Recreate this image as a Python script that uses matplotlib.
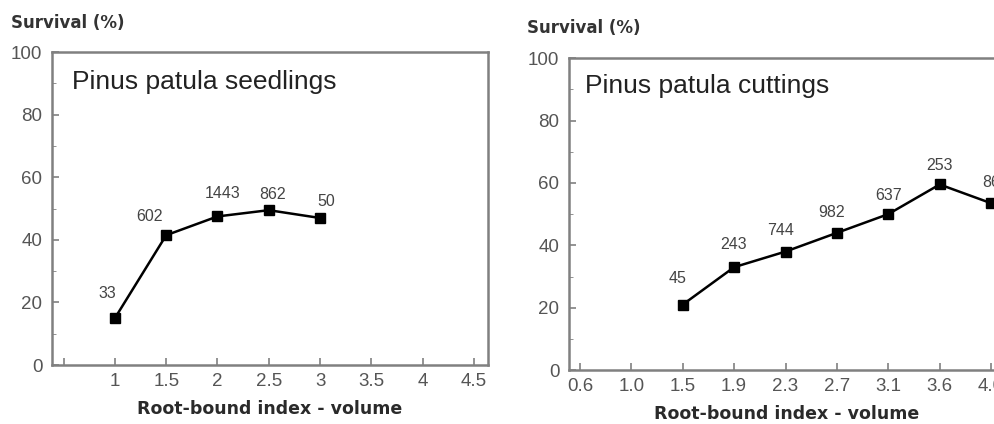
import matplotlib
matplotlib.use("Agg")
import matplotlib.pyplot as plt
from matplotlib.ticker import MultipleLocator

plt.rcParams['font.family'] = ['Liberation Sans', 'DejaVu Sans']

# --- seedlings panel data ---
seed_x = [1, 1.5, 2, 2.5, 3]
seed_y = [15, 41.5, 47.5, 49.5, 47]
seed_n = ["33", "602", "1443", "862", "50"]
seed_ticks = [0.5, 1, 1.5, 2, 2.5, 3, 3.5, 4, 4.5]
seed_ticklabels = ["", "1", "1.5", "2", "2.5", "3", "3.5", "4", "4.5"]

# --- cuttings panel data (categorical x) ---
cut_cats = ["0.6", "1.0", "1.5", "1.9", "2.3", "2.7", "3.1", "3.6", "4.0"]
cut_x = ["1.5", "1.9", "2.3", "2.7", "3.1", "3.6", "4.0"]
cut_y = [21, 33, 38, 44, 50, 59.5, 53.5]
cut_n = ["45", "243", "744", "982", "637", "253", "86"]

GREY = "#555555"
FRAME = "#808080"


def style_axes(ax):
    for s in ax.spines.values():
        s.set_color(FRAME)
        s.set_linewidth(1.8)
    ax.set_ylim(0, 100)
    ax.yaxis.set_major_locator(MultipleLocator(20))
    ax.yaxis.set_minor_locator(MultipleLocator(10))
    ax.tick_params(direction="in", length=5, width=1.2, colors=FRAME,
                   labelcolor=GREY, labelsize=13.5)
    ax.tick_params(axis="y", pad=7)
    ax.tick_params(axis="x", pad=6)
    ax.tick_params(which="minor", direction="in", length=3, colors=FRAME)
    ax.set_xlabel("Root-bound index - volume", fontsize=12.5,
                  fontweight="bold", color="#2a2a2a", labelpad=7,
                  family="DejaVu Sans")


def label_points(ax, xs, ys, labels, offsets):
    # offsets are pixel shifts of the label centre from the marker
    for x, y, n, off in zip(xs, ys, labels, offsets):
        ax.annotate(n, (x, y), xytext=off, textcoords="offset pixels",
                    ha="center", va="center", fontsize=11.5, color="#444444")


fig = plt.figure(figsize=(9.95, 4.24), dpi=100)

# left panel
ax1 = fig.add_axes([0.0523, 0.139, 0.438, 0.738])
ax1.plot(seed_x, seed_y, color="black", lw=1.8, marker="s", ms=7.5)
label_points(ax1, seed_x, seed_y, seed_n,
             [(-8, 25), (-17, 19), (5, 23), (4, 16), (6, 16)])
ax1.set_xlim(0.387, 4.636)
ax1.set_xticks(seed_ticks)
ax1.set_xticklabels(seed_ticklabels)
style_axes(ax1)
ax1.text(0.046, 0.905, "Pinus patula seedlings", transform=ax1.transAxes,
         fontsize=19, color="#222222", va="center")
fig.text(0.011, 0.946, "Survival (%)", fontsize=12, fontweight="bold",
         color="#333333", va="center", family="DejaVu Sans")

# right panel (extends past the figure edge, as in the original crop)
ax2 = fig.add_axes([0.572, 0.127, 0.438, 0.736])
pos = [cut_cats.index(c) for c in cut_x]
ax2.plot(pos, cut_y, color="black", lw=1.8, marker="s", ms=7.5)
label_points(ax2, pos, cut_y, cut_n,
             [(-5, 26), (-1, 23), (-5, 21), (-5, 20), (0, 19), (0, 19), (0, 21)])
ax2.set_xlim(-0.21, 8.27)
ax2.set_xticks(range(len(cut_cats)))
ax2.set_xticklabels(cut_cats)
style_axes(ax2)
ax2.text(0.037, 0.91, "Pinus patula cuttings", transform=ax2.transAxes,
         fontsize=19, color="#222222", va="center")
fig.text(0.53, 0.934, "Survival (%)", fontsize=12, fontweight="bold",
         color="#333333", va="center", family="DejaVu Sans")

fig.savefig("out.png", dpi=100)
